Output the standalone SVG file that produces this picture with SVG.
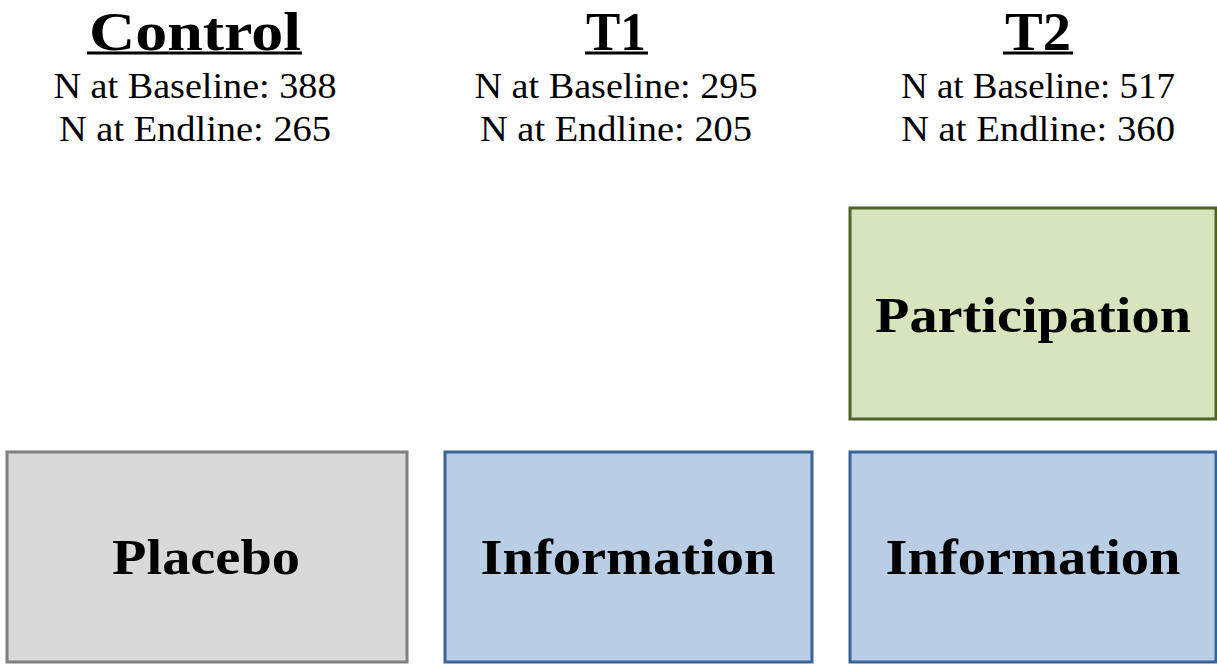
<svg xmlns="http://www.w3.org/2000/svg" width="1217" height="665" viewBox="0 0 1217 665">
<style>
.h{font-family:"Liberation Serif","DejaVu Serif",serif;font-weight:bold;font-size:55px;fill:#000;text-anchor:middle}
.n{font-family:"Liberation Serif","DejaVu Serif",serif;font-size:35px;fill:#000;text-anchor:middle}
.b{font-family:"Liberation Serif","DejaVu Serif",serif;font-weight:bold;font-size:50px;fill:#000;text-anchor:middle}
.ul{stroke:#000;stroke-width:3}
.gray{fill:#d9d9d9;stroke:#7f7f7f;stroke-width:3}
.blue{fill:#b9cde5;stroke:#3a6496;stroke-width:3}
.green{fill:#d7e4bd;stroke:#4f6228;stroke-width:3}
</style>
<g id="control-header">
<text class="h" x="195" y="50" textLength="212" lengthAdjust="spacingAndGlyphs">Control</text>
<line class="ul" x1="87" y1="53" x2="302" y2="53"/>
<text class="n" x="195" y="98" textLength="283" lengthAdjust="spacingAndGlyphs">N at Baseline: 388</text>
<text class="n" x="195" y="141" textLength="272" lengthAdjust="spacingAndGlyphs">N at Endline: 265</text>
</g>
<g id="t1-header">
<text class="h" x="616" y="50" textLength="60" lengthAdjust="spacingAndGlyphs">T1</text>
<line class="ul" x1="585" y1="53" x2="648" y2="53"/>
<text class="n" x="616" y="98" textLength="283" lengthAdjust="spacingAndGlyphs">N at Baseline: 295</text>
<text class="n" x="616" y="141" textLength="272" lengthAdjust="spacingAndGlyphs">N at Endline: 205</text>
</g>
<g id="t2-header">
<text class="h" x="1038" y="50" textLength="66" lengthAdjust="spacingAndGlyphs">T2</text>
<line class="ul" x1="1003" y1="53" x2="1073" y2="53"/>
<text class="n" x="1038" y="98" textLength="274" lengthAdjust="spacingAndGlyphs">N at Baseline: 517</text>
<text class="n" x="1038" y="141" textLength="274" lengthAdjust="spacingAndGlyphs">N at Endline: 360</text>
</g>
<g id="participation">
<rect class="green" x="850" y="208" width="366" height="211"/>
<text class="b" x="1033" y="332" textLength="316" lengthAdjust="spacingAndGlyphs">Participation</text>
</g>
<g id="placebo">
<rect class="gray" x="7" y="452" width="400" height="210"/>
<text class="b" x="206" y="574" textLength="188" lengthAdjust="spacingAndGlyphs">Placebo</text>
</g>
<g id="t1-information">
<rect class="blue" x="445" y="452" width="367" height="210"/>
<text class="b" x="628" y="574" textLength="295" lengthAdjust="spacingAndGlyphs">Information</text>
</g>
<g id="t2-information">
<rect class="blue" x="850" y="452" width="366" height="210"/>
<text class="b" x="1033" y="574" textLength="295" lengthAdjust="spacingAndGlyphs">Information</text>
</g>
<g id="connectors"></g>
</svg>
